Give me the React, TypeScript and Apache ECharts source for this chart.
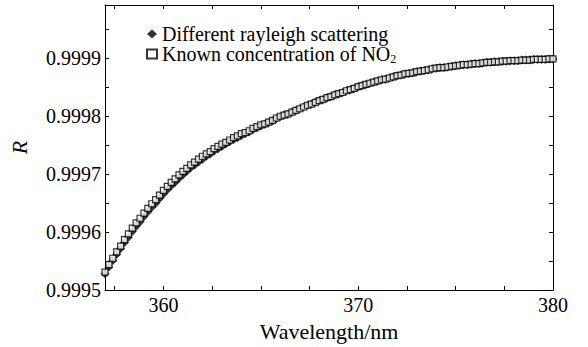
import React, { useEffect, useRef } from "react";
import * as echarts from "echarts";

const wavelengths = [
  357.0, 357.2, 357.4, 357.6, 357.8, 358.0, 358.2, 358.4, 358.6, 358.8,
  359.0, 359.2, 359.4, 359.6, 359.8, 360.0, 360.2, 360.4, 360.6, 360.8,
  361.0, 361.2, 361.4, 361.6, 361.8, 362.0, 362.2, 362.4, 362.6, 362.8,
  363.0, 363.2, 363.4, 363.6, 363.8, 364.0, 364.2, 364.4, 364.6, 364.8,
  365.0, 365.2, 365.4, 365.6, 365.8, 366.0, 366.2, 366.4, 366.6, 366.8,
  367.0, 367.2, 367.4, 367.6, 367.8, 368.0, 368.2, 368.4, 368.6, 368.8,
  369.0, 369.2, 369.4, 369.6, 369.8, 370.0, 370.2, 370.4, 370.6, 370.8,
  371.0, 371.2, 371.4, 371.6, 371.8, 372.0, 372.2, 372.4, 372.6, 372.8,
  373.0, 373.2, 373.4, 373.6, 373.8, 374.0, 374.2, 374.4, 374.6, 374.8,
  375.0, 375.2, 375.4, 375.6, 375.8, 376.0, 376.2, 376.4, 376.6, 376.8,
  377.0, 377.2, 377.4, 377.6, 377.8, 378.0, 378.2, 378.4, 378.6, 378.8,
  379.0, 379.2, 379.4, 379.6, 379.8, 380.0,
];

const rayleighR = [
  0.999528, 0.99954, 0.999551, 0.999562, 0.999572, 0.999582, 0.999591, 0.999601, 0.99961, 0.999618,
  0.999627, 0.999635, 0.999643, 0.99965, 0.999658, 0.999666, 0.999673, 0.99968, 0.999686, 0.999693,
  0.999699, 0.999705, 0.999711, 0.999716, 0.999721, 0.999726, 0.999731, 0.999735, 0.99974, 0.999744,
  0.999748, 0.999752, 0.999756, 0.99976, 0.999763, 0.999767, 0.99977, 0.999773, 0.999777, 0.99978,
  0.999783, 0.999786, 0.999789, 0.999792, 0.999796, 0.999799, 0.999802, 0.999804, 0.999807, 0.99981,
  0.999813, 0.999816, 0.999819, 0.999821, 0.999824, 0.999827, 0.999829, 0.999832, 0.999834, 0.999837,
  0.999839, 0.999841, 0.999844, 0.999846, 0.999848, 0.999851, 0.999853, 0.999855, 0.999857, 0.999859,
  0.999861, 0.999863, 0.999864, 0.999866, 0.999868, 0.99987, 0.999871, 0.999873, 0.999874, 0.999875,
  0.999877, 0.999878, 0.999879, 0.99988, 0.999882, 0.999883, 0.999884, 0.999884, 0.999885, 0.999886,
  0.999887, 0.999888, 0.999889, 0.999889, 0.99989, 0.999891, 0.999891, 0.999892, 0.999893, 0.999893,
  0.999894, 0.999894, 0.999895, 0.999895, 0.999896, 0.999896, 0.999896, 0.999897, 0.999897, 0.999897,
  0.999898, 0.999898, 0.999898, 0.999898, 0.999899, 0.999899,
];

const knownNO2R = [
  0.999531, 0.999544, 0.999555, 0.999566, 0.999576, 0.999587, 0.999597, 0.999607, 0.999616, 0.999624,
  0.999633, 0.999641, 0.999649, 0.999656, 0.999664, 0.999672, 0.999679, 0.999686, 0.999692, 0.999699,
  0.999705, 0.99971, 0.999716, 0.999721, 0.999726, 0.999731, 0.999735, 0.999739, 0.999744, 0.999748,
  0.999752, 0.999755, 0.999759, 0.999763, 0.999766, 0.99977, 0.999772, 0.999775, 0.999779, 0.999782,
  0.999785, 0.999787, 0.99979, 0.999793, 0.999797, 0.9998, 0.999802, 0.999804, 0.999807, 0.99981,
  0.999813, 0.999816, 0.999819, 0.999821, 0.999824, 0.999827, 0.999829, 0.999832, 0.999834, 0.999837,
  0.999839, 0.999841, 0.999844, 0.999846, 0.999848, 0.999851, 0.999853, 0.999855, 0.999857, 0.999859,
  0.999861, 0.999863, 0.999864, 0.999866, 0.999868, 0.99987, 0.999871, 0.999873, 0.999874, 0.999875,
  0.999877, 0.999878, 0.999879, 0.99988, 0.999882, 0.999883, 0.999884, 0.999884, 0.999885, 0.999886,
  0.999887, 0.999888, 0.999889, 0.999889, 0.99989, 0.999891, 0.999891, 0.999892, 0.999893, 0.999893,
  0.999894, 0.999894, 0.999895, 0.999895, 0.999896, 0.999896, 0.999896, 0.999897, 0.999897, 0.999897,
  0.999898, 0.999898, 0.999898, 0.999898, 0.999899, 0.999899,
];

const seriesNames = ["Different rayleigh scattering", "Known concentration of NO2"];
const xTickLabels = [360, 370, 380];
const xTickMarks = [357.5, 360, 362.5, 365, 367.5, 370, 372.5, 375, 377.5, 380];
const yTickLabels = [0.9995, 0.9996, 0.9997, 0.9998, 0.9999];
const yTickMarks = [0.9995, 0.99955, 0.9996, 0.99965, 0.9997, 0.99975, 0.9998, 0.99985, 0.9999, 0.99995];

const FONT = "Liberation Serif";

export default function App() {
  const ref = useRef<HTMLDivElement>(null);

  useEffect(() => {
    document.body.style.margin = "0";
    if (!ref.current) return;
    const chart = echarts.init(ref.current, null, { renderer: "svg" });

    const axisLine = { show: true, lineStyle: { color: "#000", width: 1 } };
    const xTick = { show: true, inside: true, length: 4, customValues: xTickMarks, lineStyle: { color: "#000", width: 1 } };
    const yTick = { show: true, inside: true, length: 4, customValues: yTickMarks, lineStyle: { color: "#000", width: 1 } };

    chart.setOption({
      animation: false,
      backgroundColor: "#fff",
      textStyle: { fontFamily: FONT },
      grid: { left: 105, top: 5, width: 448, height: 299 },
      legend: {
        orient: "vertical",
        left: 146,
        top: 24,
        padding: 0,
        itemWidth: 10,
        itemHeight: 9,
        itemGap: 0,
        data: [
          { name: seriesNames[0], icon: "diamond" },
          { name: seriesNames[1], icon: "rect" },
        ],
        formatter: (name: string) =>
          name === seriesNames[1] ? "{t|Known concentration of NO}{s|2}" : "{t|" + name + "}",
        textStyle: {
          fontFamily: FONT,
          fontSize: 20,
          color: "#000",
          rich: {
            t: { fontFamily: FONT, fontSize: 20, color: "#000", lineHeight: 21 },
            s: {
              fontFamily: FONT,
              fontSize: 12,
              color: "#000",
              lineHeight: 6,
              verticalAlign: "bottom",
              padding: [5, 0, 0, 0],
            },
          },
        },
      },
      xAxis: [
        {
          type: "value",
          position: "bottom",
          min: 357,
          max: 380,
          axisLine,
          axisTick: xTick,
          axisLabel: { customValues: xTickLabels, fontFamily: FONT, fontSize: 20, color: "#000", margin: 5 },
          splitLine: { show: false },
          name: "Wavelength/nm",
          nameLocation: "middle",
          nameGap: 20,
          nameTextStyle: { fontFamily: FONT, fontSize: 22, color: "#000" },
        },
        {
          type: "value",
          position: "top",
          min: 357,
          max: 380,
          axisLine,
          axisTick: xTick,
          axisLabel: { show: false },
          splitLine: { show: false },
        },
      ],
      yAxis: [
        {
          type: "value",
          position: "left",
          min: 0.9995,
          max: 0.999992,
          axisLine,
          axisTick: yTick,
          axisLabel: {
            customValues: yTickLabels,
            formatter: (v: number) => v.toFixed(4),
            fontFamily: FONT,
            fontSize: 20,
            color: "#000",
            margin: 4,
          },
          splitLine: { show: false },
          name: "R",
          nameLocation: "middle",
          nameGap: 75,
          nameTextStyle: { fontFamily: FONT, fontSize: 22, fontStyle: "italic", color: "#000" },
        },
        {
          type: "value",
          position: "right",
          min: 0.9995,
          max: 0.999992,
          axisLine,
          axisTick: yTick,
          axisLabel: { show: false },
          splitLine: { show: false },
        },
      ],
      series: [
        {
          type: "scatter",
          name: seriesNames[0],
          symbol: "diamond",
          symbolSize: 9,
          itemStyle: { color: "#000" },
          data: wavelengths.map((w, i) => [w, rayleighR[i]]),
        },
        {
          type: "scatter",
          name: seriesNames[1],
          symbol: "rect",
          symbolSize: 6,
          itemStyle: { color: "#fff", borderColor: "#000", borderWidth: 1.2 },
          data: wavelengths.map((w, i) => [w, knownNO2R[i]]),
        },
      ],
    });

    return () => chart.dispose();
  }, []);

  return <div ref={ref} style={{ width: 588, height: 347 }} />;
}
